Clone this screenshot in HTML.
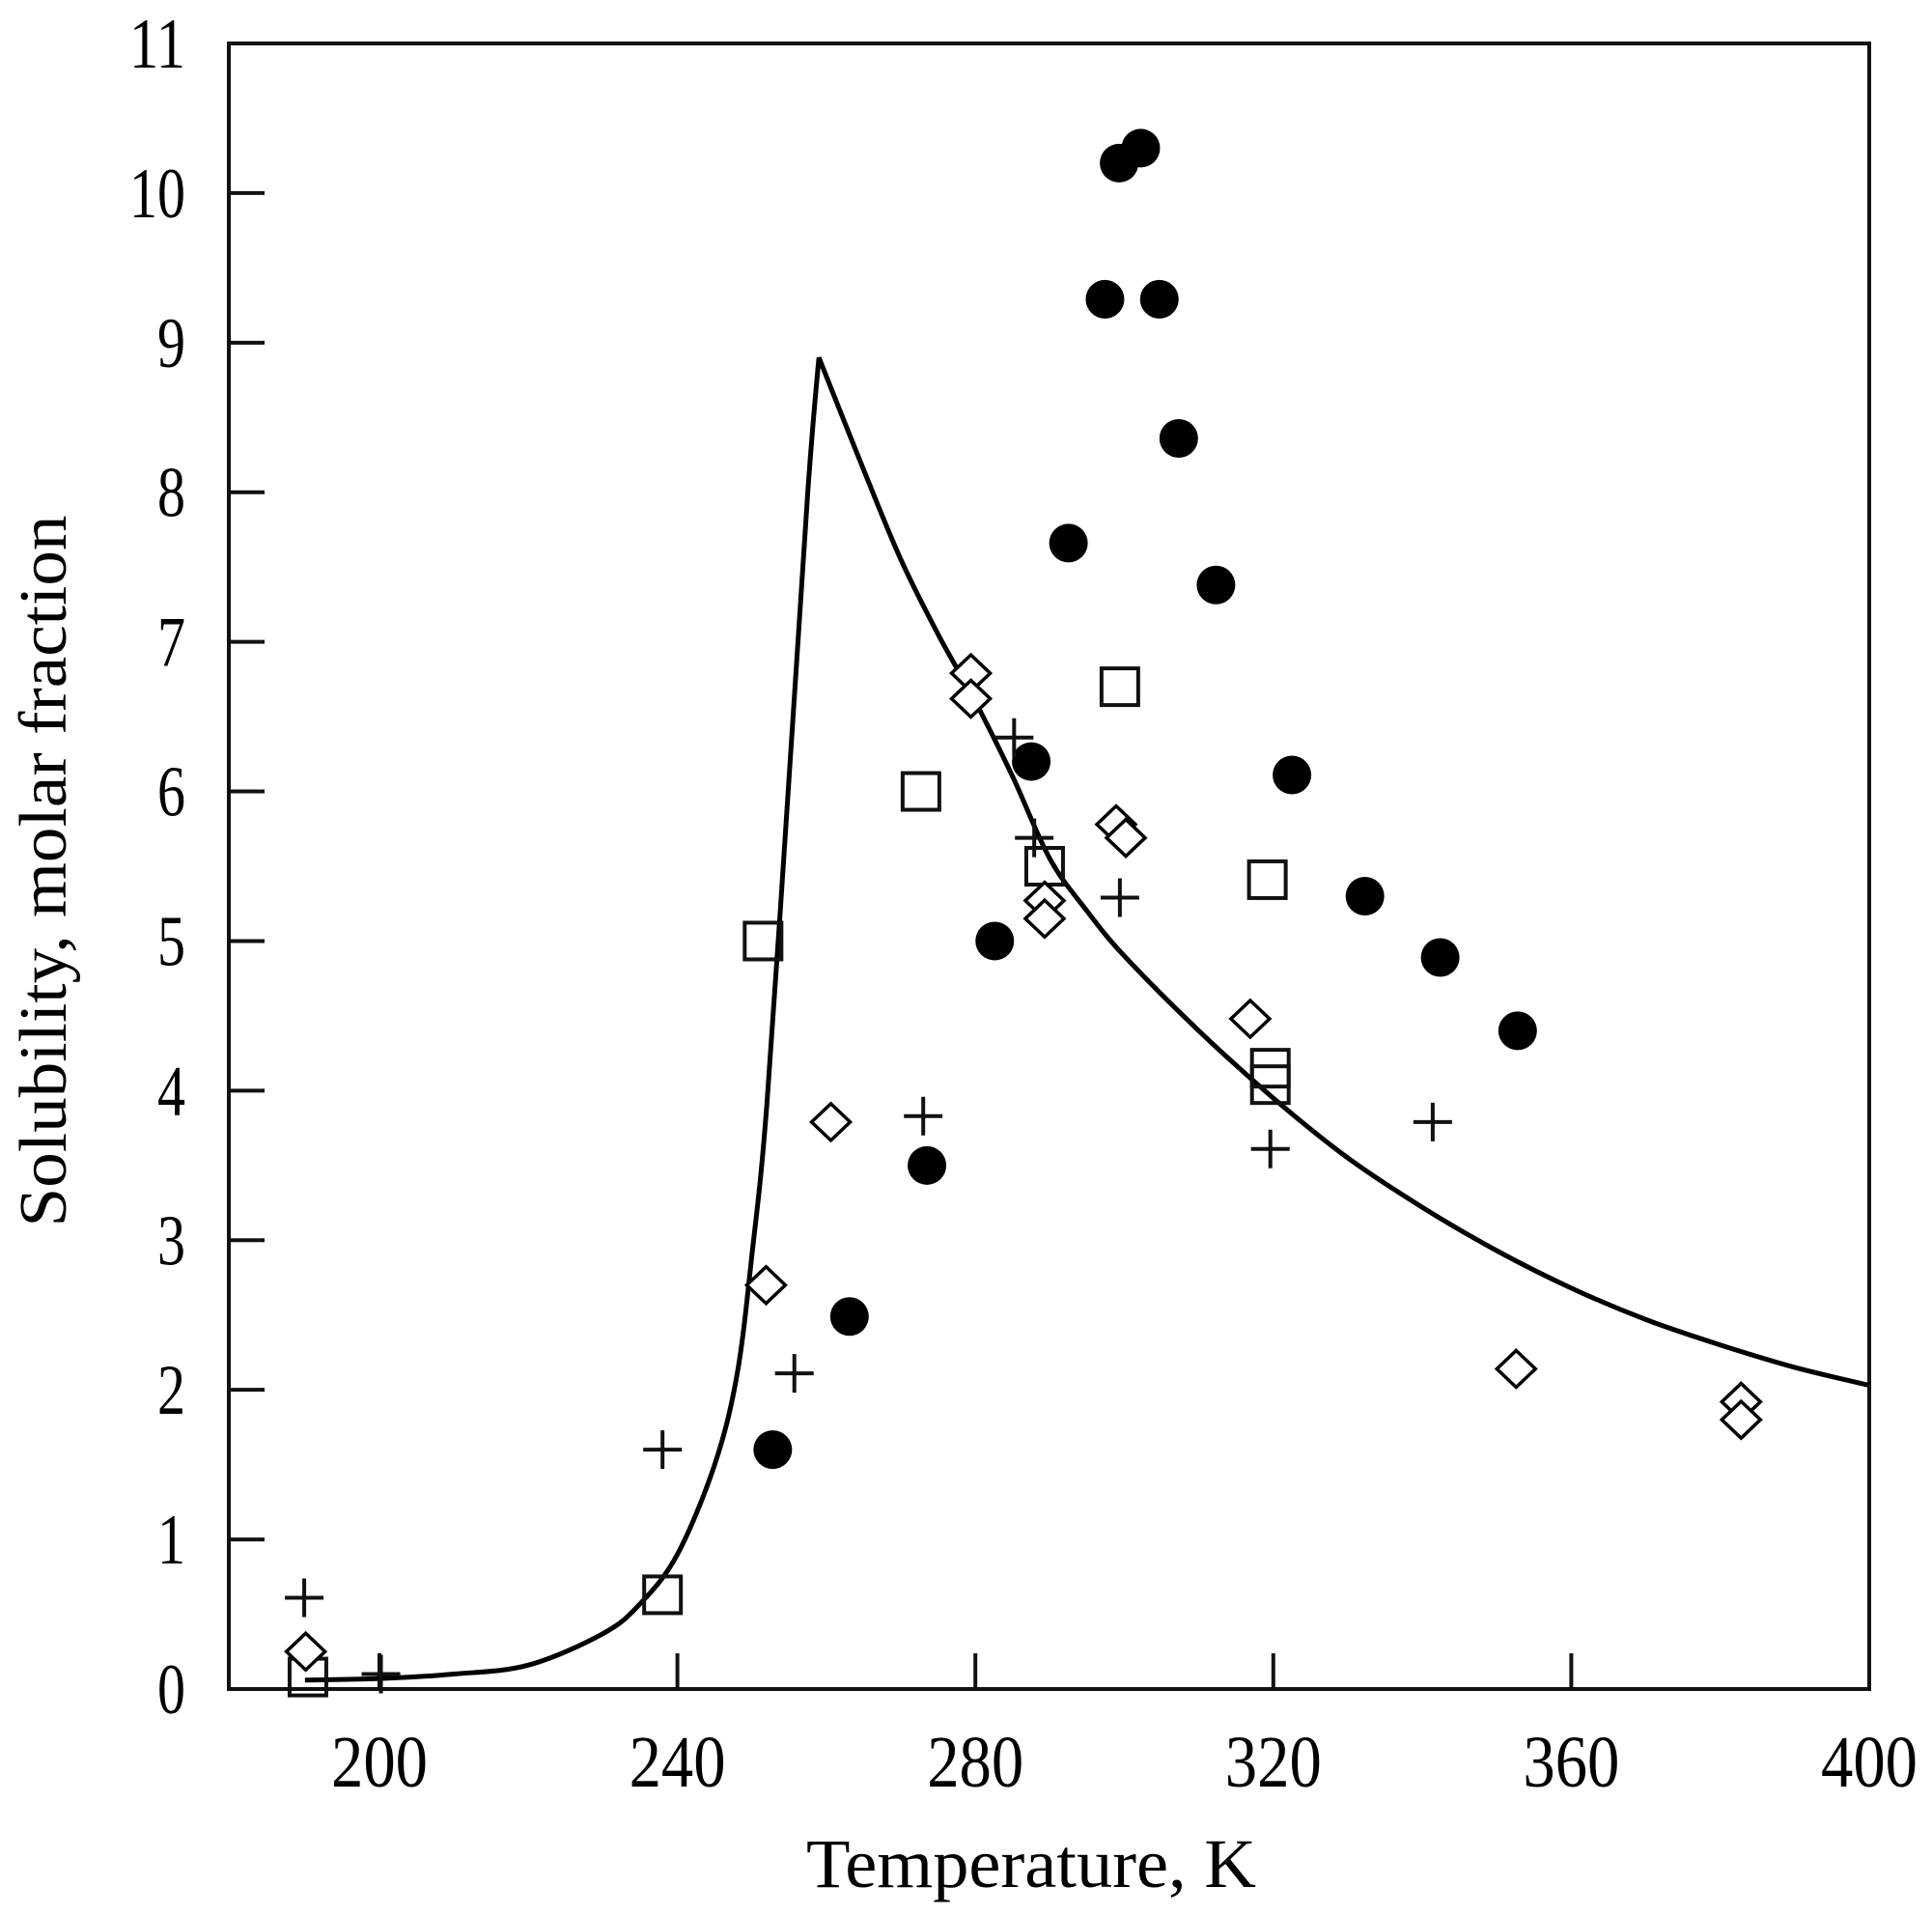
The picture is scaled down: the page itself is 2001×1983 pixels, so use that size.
<!DOCTYPE html>
<html><head><meta charset="utf-8"><style>
html,body{margin:0;padding:0;background:#fff;}
svg{display:block;}
text{font-family:"Liberation Serif",serif;fill:#000;}
</style></head><body>
<svg id="chart" width="2001" height="1983" viewBox="0 0 2001 1983" xmlns="http://www.w3.org/2000/svg">
<g id="axes"></g>
<g id="curve"></g>
<g id="marks"></g>
<text x="1068" y="1954" font-size="72" text-anchor="middle" textLength="466" lengthAdjust="spacingAndGlyphs">Temperature, K</text>
<text transform="translate(68,902) rotate(-90)" font-size="70" text-anchor="middle" textLength="737" lengthAdjust="spacingAndGlyphs">Solubility, molar fraction</text>
</svg>
<script>
const xTicks=[200,240,280,320,360,400];
const yTicks=[0,1,2,3,4,5,6,7,8,9,10,11];
const circleT=[252.8,263.1,273.5,282.6,287.5,292.5,297.4,299.3,302.2,304.7,307.3,312.3,322.5,332.3,342.4,352.8];
const circleS=[1.6,2.49,3.5,5.0,6.2,7.66,9.29,10.2,10.3,9.29,8.36,7.38,6.11,5.3,4.89,4.4];
const squareT=[190.4,238,251.5,272.7,299.4,289.3,319.2,319.6,319.6];
const squareS=[0.08,0.63,5.0,6.0,6.7,5.5,5.41,4.15,4.04];
const diamondT=[190.1,251.9,260.6,279.4,279.4,289.3,289.3,298.9,300.2,316.9,352.6,382.8,382.8];
const diamondS=[0.25,2.7,3.79,6.79,6.62,5.27,5.15,5.78,5.69,4.48,2.14,1.92,1.8];
const plusT=[189.9,200.2,238,255.7,273,285.2,287.9,299.4,319.6,341.4];
const plusS=[0.61,0.1,1.6,2.11,3.83,6.36,5.69,5.29,3.61,3.79];
const curveT=[190,200,210,220,230,235,240,245,248,250,252,255,257.5,259,265,270,275,280,285,290,295,300,310,320,330,340,350,360,370,380,390,400];
const curveS=[0.06,0.07,0.1,0.16,0.37,0.57,0.9,1.5,2.1,2.9,3.9,6.1,8.0,8.9,8.15,7.55,7.05,6.6,6.1,5.55,5.2,4.9,4.4,3.95,3.55,3.22,2.93,2.68,2.47,2.3,2.15,2.03];

const L=237,R=1936,T=45,B=1749;
const X=t=>393+(t-200)*(R-393)/200;
const Y=v=>B-v*(B-T)/11;
const NS="http://www.w3.org/2000/svg";
function mk(tag,attrs,parent){const e=document.createElementNS(NS,tag);for(const k in attrs)e.setAttribute(k,attrs[k]);parent.appendChild(e);return e;}
const axes=document.getElementById('axes');
const fr=mk('rect',{x:L,y:T,width:R-L,height:B-T,fill:'none',stroke:'#111','stroke-width':4},axes);


xTicks.forEach(t=>{
  const ln=mk('line',{x1:X(t),x2:X(t),y1:B,y2:B-37,stroke:'#111','stroke-width':4},axes);
  
  
  const tx=mk('text',{x:X(t),y:1850,'font-size':76,'text-anchor':'middle',textLength:100,lengthAdjust:'spacingAndGlyphs'},axes);
  tx.textContent=t;
  
  
});
yTicks.forEach(v=>{
  const ln=mk('line',{x1:L,x2:L+37,y1:Y(v),y2:Y(v),stroke:'#111','stroke-width':4},axes);
  
  
  const s=String(v);
  const tx=mk('text',{x:192,y:Y(v)+25,'font-size':74,'text-anchor':'end',textLength:s.length*29,lengthAdjust:'spacingAndGlyphs'},axes);
  tx.textContent=s;
  
  
});
// curve (Catmull-Rom, sharp at peak)
const pts=curveT.map((t,i)=>[X(t),Y(curveS[i])]);
let peak=0;curveS.forEach((v,i)=>{if(v>curveS[peak])peak=i;});
let d='M'+pts[0][0]+','+pts[0][1];
for(let i=0;i<pts.length-1;i++){
  const p0=pts[Math.max(0,i-1)],p1=pts[i],p2=pts[i+1],p3=pts[Math.min(pts.length-1,i+2)];
  const k1=(i===peak)?0:1/6, k2=(i+1===peak)?0:1/6;
  const c1=[p1[0]+(p2[0]-p0[0])*k1,p1[1]+(p2[1]-p0[1])*k1];
  const c2=[p2[0]-(p3[0]-p1[0])*k2,p2[1]-(p3[1]-p1[1])*k2];
  d+=' C'+c1+' '+c2+' '+p2;
}
const cv=mk('path',{d:d,fill:'none',stroke:'#000','stroke-width':5,'stroke-linejoin':'miter'},document.getElementById('curve'));


const marks=document.getElementById('marks');
circleT.forEach((t,i)=>{
  const c=mk('circle',{cx:X(t),cy:Y(circleS[i]),r:20,fill:'#000'},marks);
  
  
});
squareT.forEach((t,i)=>{
  const s=mk('rect',{x:X(t)-19,y:Y(squareS[i])-19,width:38,height:38,fill:'none',stroke:'#111','stroke-width':4},marks);
  
  
});
diamondT.forEach((t,i)=>{
  const x=X(t),y=Y(diamondS[i]);
  const p=mk('polygon',{points:`${x},${y-19} ${x+20},${y} ${x},${y+19} ${x-20},${y}`,fill:'#fff',stroke:'#000','stroke-width':3.5},marks);
  
  
});
plusT.forEach((t,i)=>{
  const x=X(t),y=Y(plusS[i]);
  const p=mk('path',{d:`M${x-20},${y}H${x+20}M${x},${y-20}V${y+20}`,stroke:'#111','stroke-width':4},marks);
  
  
});
</script>
</body></html>
